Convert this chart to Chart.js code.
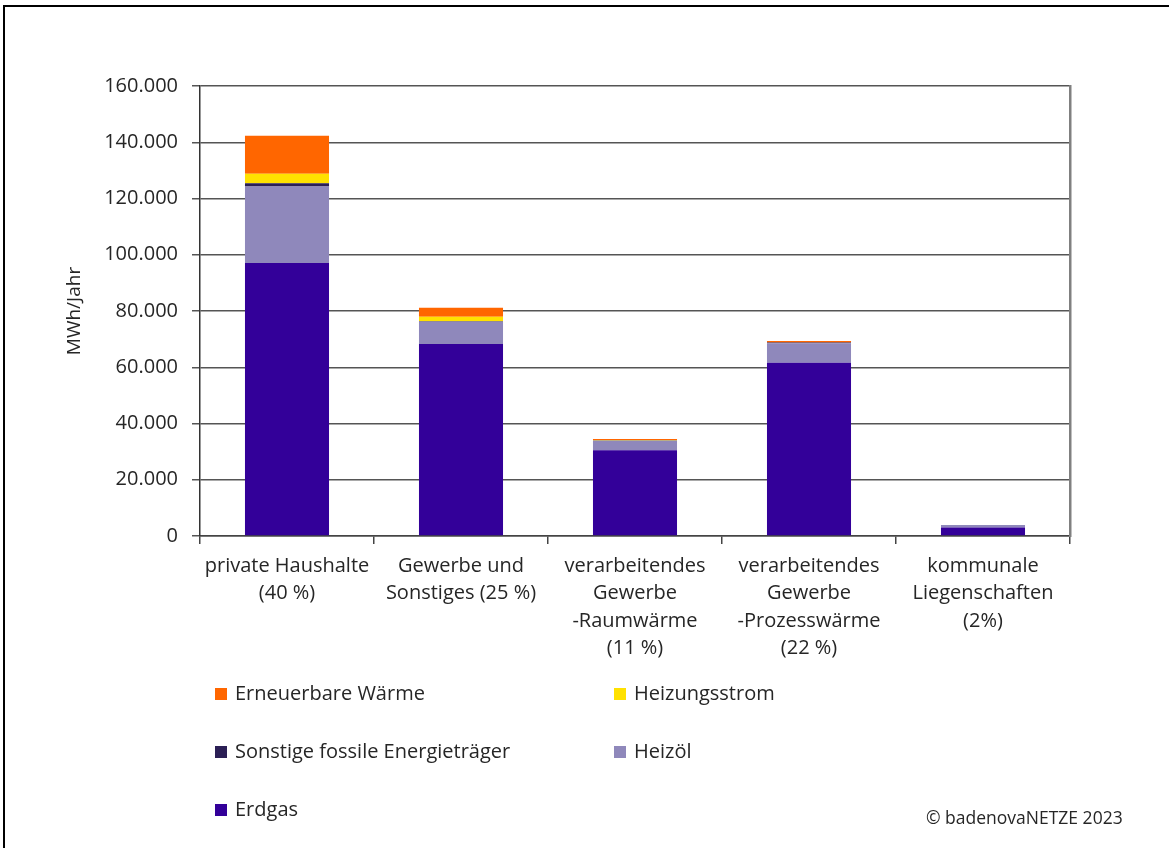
<!DOCTYPE html>
<html>
<head>
<meta charset="utf-8">
<script src="https://cdn.jsdelivr.net/npm/chart.js@4.4.1/dist/chart.umd.min.js"></script>
<style>
    body { margin: 0; background: #fff; font-family: 'Open Sans', sans-serif; color: #262626; }
    .frame { position: absolute; left: 3px; top: 5px; width: 1300px; height: 1000px; border: 2px solid #000; }
    .wrap { position: absolute; left: 0; top: 0; width: 1169px; height: 848px; }
    .legend-item { position: absolute; font-size: 20px; line-height: 24px; white-space: nowrap; }
    .legend-item span.box { display: inline-block; width: 12px; height: 12px; margin-right: 8px; vertical-align: 0px; }
    .copy { position: absolute; left: 926px; top: 805px; font-size: 17.5px; }
</style>
</head>
<body>
<div class="frame"></div>
<div class="wrap"><canvas id="chart" width="1169" height="848"></canvas></div>
<div id="legend"></div>
<div class="copy">© badenovaNETZE 2023</div>
<script>
const categories = [
    ['private Haushalte', '(40 %)'],
    ['Gewerbe und', 'Sonstiges (25 %)'],
    ['verarbeitendes', 'Gewerbe', '-Raumwärme', '(11 %)'],
    ['verarbeitendes', 'Gewerbe', '-Prozesswärme', '(22 %)'],
    ['kommunale', 'Liegenschaften', '(2%)']
];
const erdgas = [97100, 68300, 30500, 61600, 3000];
const heizoel = [27200, 7900, 3400, 6900, 900];
const sonstige = [1100, 200, 100, 300, 0];
const heizungsstrom = [3400, 1600, 100, 0, 0];
const erneuerbare = [13500, 3200, 400, 500, 0];
const yTicks = [0, 20000, 40000, 60000, 80000, 100000, 120000, 140000, 160000];

const seriesNames = ['Erdgas', 'Heizöl', 'Sonstige fossile Energieträger', 'Heizungsstrom', 'Erneuerbare Wärme'];
const seriesColors = ['#330099', '#8f88bb', '#2b1f55', '#ffe100', '#ff6600'];
const seriesData = [erdgas, heizoel, sonstige, heizungsstrom, erneuerbare];

function fmt(v) {
    return String(v).replace(/\B(?=(\d{3})+(?!\d))/g, '.');
}

let datasets = seriesNames.map((name, i) => ({
    label: name,
    data: seriesData[i],
    backgroundColor: seriesColors[i],
    borderWidth: 0,
    categoryPercentage: 0.483,
    barPercentage: 1
}));

const font = { family: 'Open Sans', size: 20, lineHeight: 1.38 };

new Chart(document.getElementById('chart'), {
    type: 'bar',
    data: { labels: categories, datasets: datasets },
    options: {
        responsive: false,
        animation: false,
        layout: { padding: { top: 86, right: 99, bottom: 0, left: 0 } },
        plugins: { legend: { display: false }, tooltip: { enabled: false } },
        scales: {
            x: {
                stacked: true,
                grid: { drawOnChartArea: false, drawTicks: true, tickLength: 8, color: '#444', lineWidth: 1.5 },
                border: { color: '#444', width: 1.5 },
                ticks: { color: '#262626', font: font, padding: 8, maxRotation: 0, autoSkip: false },
                afterFit: s => { s.height = 312; }
            },
            y: {
                stacked: true,
                min: 0,
                max: 160000,
                afterBuildTicks: s => { s.ticks = yTicks.map(v => ({ value: v })); },
                grid: { color: '#555', lineWidth: 1.5, tickLength: 8 },
                border: { color: '#333', width: 1.5 },
                ticks: { color: '#262626', font: font, padding: 14, callback: v => fmt(v) },
                title: { display: true, text: 'MWh/Jahr', color: '#262626', font: { family: 'Open Sans', size: 19, lineHeight: 1.2 }, padding: { top: 63, bottom: 0 } },
                afterFit: s => { s.width = 200; }
            },
            yR: {
                position: 'right',
                min: 0,
                max: 160000,
                grid: { drawOnChartArea: false, drawTicks: false },
                border: { color: '#808080', width: 2.5 },
                ticks: { display: false },
                afterFit: s => { s.width = 0; }
            }
        }
    }
});

// legend, two columns like the original
const legendOrder = [4, 3, 2, 1, 0];
const legendPos = [[215, 681], [614, 681], [215, 739], [614, 739], [215, 797]];
let legend = document.getElementById('legend');
legendOrder.forEach((idx, k) => {
    let item = document.createElement('div');
    item.className = 'legend-item';
    item.style.left = legendPos[k][0] + 'px';
    item.style.top = legendPos[k][1] + 'px';
    item.innerHTML = `<span class="box" style="background:${seriesColors[idx]}"></span>${seriesNames[idx]}`;
    legend.appendChild(item);
});
</script>
</body>
</html>
